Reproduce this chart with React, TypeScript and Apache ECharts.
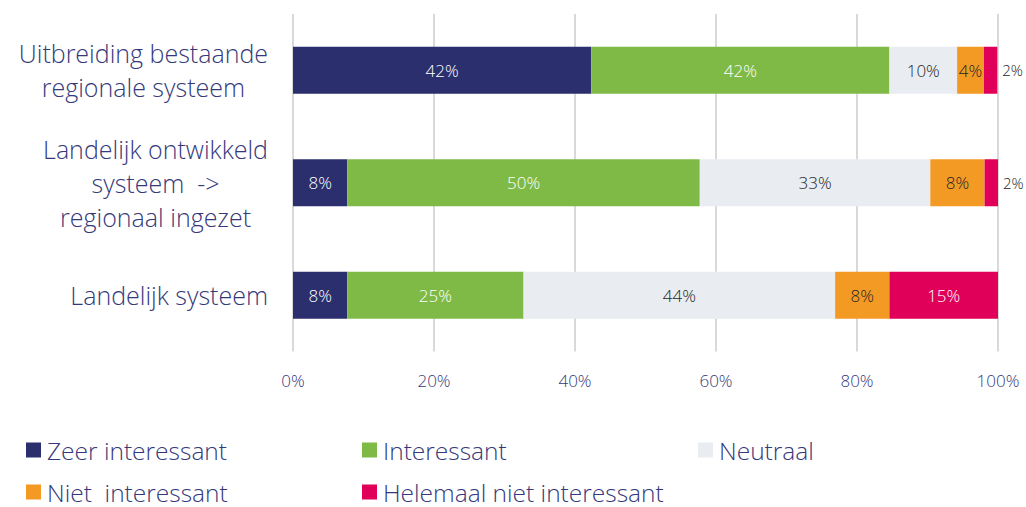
import React, { useEffect, useRef } from "react";
import * as echarts from "echarts";

const categories = [
  "Uitbreiding bestaande\nregionale systeem",
  "Landelijk ontwikkeld\nsysteem  ->\nregionaal ingezet",
  "Landelijk systeem",
];
const seriesNames = [
  "Zeer interessant",
  "Interessant",
  "Neutraal",
  "Niet  interessant",
  "Helemaal niet interessant",
];
const zeerInteressant = [42.3, 7.7, 7.7];
const interessant = [42.3, 50.0, 25.0];
const neutraal = [9.6, 32.7, 44.2];
const nietInteressant = [3.8, 7.7, 7.7];
const helemaalNiet = [1.9, 1.9, 15.4];
const xTicks = [0, 20, 40, 60, 80, 100];

const colors = ["#2b2f6e", "#7fba46", "#e9edf2", "#f39a25", "#e0005a"];
const labelColors = ["#ffffff", "#ffffff", "#262626", "#262626", "#ffffff"];
const NAVY = "#35397a";
const FONT = "Open Sans";

export default function App() {
  const ref = useRef<HTMLDivElement>(null);
  useEffect(() => {
    if (!ref.current) return;
    const chart = echarts.init(ref.current, null, { renderer: "svg" });
    const values = [zeerInteressant, interessant, neutraal, nietInteressant, helemaalNiet];
    const series = values.map((vals, i) => ({
      name: seriesNames[i],
      type: "bar",
      stack: "total",
      barWidth: 47,
      itemStyle: { color: colors[i] },
      label: {
        show: true,
        position: "inside",
        color: labelColors[i],
        fontFamily: FONT,
        fontWeight: 300,
        fontSize: 17,
        formatter: (p: any) => Math.round(p.value) + "%",
      },
      data: vals.map((v) =>
        i === 4 && v < 5
          ? {
              value: v,
              label: { position: "right", distance: 5, color: "#262626", fontSize: 15 },
            }
          : v
      ),
    }));
    const legendPos = [
      [26, 437],
      [362, 437],
      [698, 437],
      [26, 479],
      [362, 479],
    ];
    const legend = seriesNames.map((n, i) => ({
      data: [n],
      left: legendPos[i][0],
      top: legendPos[i][1],
      icon: "rect",
      itemWidth: 15,
      itemHeight: 15,
      selectedMode: false,
      padding: 0,
      textStyle: {
        color: NAVY,
        fontFamily: FONT,
        fontWeight: 300,
        fontSize: 24.5,
        lineHeight: 26,
        padding: [0, 0, 0, 1],
      },
    }));
    chart.setOption({
      animation: false,
      grid: { left: 293, right: 28, top: 14, bottom: 155.5, containLabel: false },
      legend,
      xAxis: {
        type: "value",
        min: xTicks[0],
        max: xTicks[xTicks.length - 1],
        interval: 20,
        axisLine: { show: false },
        axisTick: { show: false },
        splitLine: { show: true, lineStyle: { color: "#d9d9d9", width: 2 } },
        axisLabel: {
          color: NAVY,
          fontFamily: FONT,
          fontWeight: 300,
          fontSize: 17,
          margin: 20,
          formatter: "{value}%",
        },
      },
      yAxis: {
        type: "category",
        inverse: true,
        data: categories,
        axisLine: { show: false },
        axisTick: { show: false },
        axisLabel: {
          margin: 25,
          align: "right",
          formatter: (v: string) =>
            v
              .split("\n")
              .map((l) => `{c|${l}}`)
              .join("\n"),
          rich: {
            c: {
              align: "center",
              color: NAVY,
              fontFamily: FONT,
              fontWeight: 300,
              fontSize: 25,
              lineHeight: 34,
            },
          },
        },
      },
      series,
    });
    return () => chart.dispose();
  }, []);
  return (
    <div
      ref={ref}
      style={{ position: "fixed", left: 0, top: 0, width: 1026, height: 507, background: "#fff" }}
    />
  );
}
